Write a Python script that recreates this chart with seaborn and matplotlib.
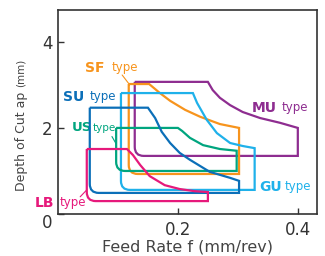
import seaborn as sns
import matplotlib.pyplot as plt
from matplotlib.path import Path
from matplotlib.patches import PathPatch

# insert grades (drawn in this order, last on top)
types = ['MU', 'SF', 'GU', 'US', 'SU', 'LB']
colors = ['#8e2d90', '#f7941d', '#1fb1ea', '#00a57f', '#0b6fb8', '#e6197b']

# recommended ranges: box edges (feed f mm/rev, depth ap mm)
f_left = [0.128, 0.118, 0.105, 0.097, 0.053, 0.048]
f_right = [0.40, 0.302, 0.328, 0.298, 0.302, 0.25]
ap_bottom = [1.35, 0.93, 0.56, 1.0, 0.49, 0.30]
ap_top = [3.07, 3.02, 2.81, 2.0, 2.47, 1.51]

# upper-right limit curves
mu_f = [0.25, 0.258, 0.270, 0.287, 0.308, 0.337, 0.37, 0.40]
mu_ap = [3.07, 2.88, 2.70, 2.53, 2.37, 2.23, 2.12, 2.0]
sf_f = [0.152, 0.170, 0.187, 0.212, 0.237, 0.270, 0.302]
sf_ap = [3.02, 2.81, 2.63, 2.42, 2.26, 2.09, 2.0]
gu_f = [0.225, 0.232, 0.248, 0.265, 0.287, 0.308, 0.328]
gu_ap = [2.81, 2.58, 2.19, 1.88, 1.65, 1.58, 1.53]
us_f = [0.20, 0.207, 0.22, 0.242, 0.27, 0.298]
us_ap = [2.0, 1.93, 1.77, 1.60, 1.51, 1.47]
su_f = [0.150, 0.162, 0.173, 0.187, 0.203, 0.220, 0.253, 0.287, 0.302]
su_ap = [2.47, 2.23, 1.91, 1.65, 1.42, 1.26, 0.98, 0.84, 0.77]
lb_f = [0.115, 0.125, 0.137, 0.153, 0.178, 0.203, 0.228, 0.25]
lb_ap = [1.51, 1.37, 1.14, 0.88, 0.67, 0.58, 0.53, 0.51]

curve_f = [mu_f, sf_f, gu_f, us_f, su_f, lb_f]
curve_ap = [mu_ap, sf_ap, gu_ap, us_ap, su_ap, lb_ap]

x_ticks = [0.2, 0.4]
y_ticks = [0, 2, 4]

# label layout: (big text pos, 'type' pos) in data coords
label_pos = {
    'MU': ((0.323, 2.47), (0.373, 2.47)),
    'SF': ((0.045, 3.40), (0.090, 3.40)),
    'GU': ((0.335, 0.63), (0.378, 0.63)),
    'US': ((0.023, 2.00), (0.058, 2.00)),
    'SU': ((0.008, 2.72), (0.053, 2.72)),
    'LB': ((-0.038, 0.26), (0.002, 0.26)),
}
leaders = {
    'SF': ((0.107, 3.23), (0.118, 3.03)),
    'US': ((0.090, 1.80), (0.097, 1.63)),
    'LB': ((0.037, 0.40), (0.048, 0.56)),
}

sns.set_theme(style='ticks')
plt.rcParams['font.family'] = ['DejaVu Sans']

fig = plt.figure(figsize=(3.25, 2.56), dpi=100)
ax = fig.add_axes([58 / 325, 1 - 214 / 256, 259 / 325, 204 / 256])
ax.set_xlim(0, 0.432)
ax.set_ylim(0, 4.74)

# corner rounding radius in pixels -> data units
px_x = 259 / 0.432
px_y = 204 / 4.74
rad = 9

for i, name in enumerate(types):
    l, r, b, t = f_left[i], f_right[i], ap_bottom[i], ap_top[i]
    rx, ry = rad / px_x, rad / px_y
    verts = [(l, t)] + list(zip(curve_f[i], curve_ap[i])) + [(r, b), (l + rx, b), (l, b), (l, b + ry), (l, t)]
    codes = [Path.MOVETO] + [Path.LINETO] * len(curve_f[i]) + [Path.LINETO, Path.LINETO, Path.CURVE3, Path.CURVE3, Path.LINETO]
    patch = PathPatch(Path(verts, codes), fill=False, edgecolor=colors[i], lw=1.6,
                      joinstyle='miter', zorder=2 + i)
    ax.add_patch(patch)

    (bx, by), (tx, ty) = label_pos[name]
    ax.text(bx, by, name, color=colors[i], fontsize=9.5 if name == 'US' else 10,
            fontweight='bold', ha='left', va='center', clip_on=False)
    ax.text(tx, ty, 'type', color=colors[i], fontsize=7.5 if name == 'US' else 8.5,
            ha='left', va='center', clip_on=False)
    if name in leaders:
        p0, p1 = leaders[name]
        ax.annotate('', xy=p1, xytext=p0,
                    arrowprops=dict(arrowstyle='-', color=colors[i], lw=0.8,
                                    shrinkA=0, shrinkB=0))

ax.set_xticks(x_ticks)
ax.set_xticklabels(['0.2', '0.4'])
ax.set_yticks(y_ticks)
ax.set_yticklabels(['0', '2', '4'])
ax.tick_params(axis='x', direction='in', length=4, width=1, color='#333333',
               labelsize=12, labelcolor='#333333', pad=5)
ax.tick_params(axis='y', direction='in', length=4, width=1, color='#333333',
               labelsize=12, labelcolor='#333333', pad=4)
ax.get_yticklabels()[0].set_verticalalignment('top')
for s in ax.spines.values():
    s.set_color('#333333')
    s.set_linewidth(1.2)

fig.text(22 / 325, 1 - 141 / 256, 'Depth of Cut ap', rotation=90,
         ha='center', va='center', fontsize=9, color='#444444')
fig.text(21 / 325, 1 - 73 / 256, '(mm)', rotation=90,
         ha='center', va='center', fontsize=7.5, color='#444444')
fig.text(187 / 325, 1 - 247 / 256, 'Feed Rate f (mm/rev)',
         ha='center', va='center', fontsize=11.5, color='#444444')

fig.savefig('out.png', dpi=100)
